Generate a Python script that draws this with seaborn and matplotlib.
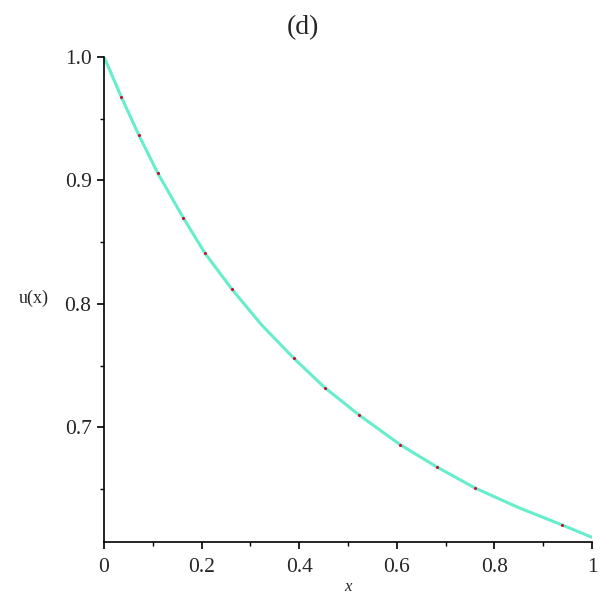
# Imports:
import numpy as np
import pandas as pd
import matplotlib
matplotlib.use("Agg")
import matplotlib.pyplot as plt
from matplotlib.ticker import MultipleLocator
import seaborn as sns

# Data:
x_values = [0.0, 0.035, 0.071, 0.11, 0.162, 0.207, 0.262, 0.323, 0.389,
            0.453, 0.523, 0.607, 0.682, 0.76, 0.85, 0.939, 1.0]
u_values = [1.0, 0.968, 0.937, 0.906, 0.870, 0.841, 0.812, 0.783, 0.756,
            0.732, 0.710, 0.686, 0.668, 0.651, 0.635, 0.621, 0.611]

# Marked points on the curve:
dot_x = [0.035, 0.071, 0.11, 0.162, 0.207, 0.262, 0.389, 0.453, 0.523,
         0.607, 0.682, 0.76, 0.939]
dot_u = [0.968, 0.937, 0.906, 0.870, 0.841, 0.812, 0.756, 0.732, 0.710,
         0.686, 0.668, 0.651, 0.621]

x_ticks = [0, 0.2, 0.4, 0.6, 0.8, 1.0]
x_tick_labels = ["0", "0.2", "0.4", "0.6", "0.8", "1"]
y_ticks = [0.7, 0.8, 0.9, 1.0]
y_tick_labels = ["0.7", "0.8", "0.9", "1.0"]

curve = pd.DataFrame({"x": x_values, "u": u_values})
dots = pd.DataFrame({"x": dot_x, "u": dot_u})

# Style:
sns.set_theme(style="white")
plt.rcParams["font.family"] = ["Liberation Serif", "DejaVu Serif"]

# Figure:
fig = plt.figure(figsize=(6.05, 6.05), dpi=100)
ax = fig.add_axes([0.172, 0.1047, 0.8065, 0.8011])

# Curve:
sns.lineplot(data=curve, x="x", y="u", ax=ax, color="#66EDCB",
             linewidth=2.2, sort=True)

# Dots:
sns.scatterplot(data=dots, x="x", y="u", ax=ax, color="#C8102E",
                s=5, linewidth=0, zorder=3)

# Axes:
ax.set_xlim(0, 1.0)
ax.set_ylim(0.6075, 1.0)
ax.set_xticks(x_ticks)
ax.set_xticklabels(x_tick_labels)
ax.set_yticks(y_ticks)
ax.set_yticklabels(y_tick_labels)
ax.xaxis.set_minor_locator(MultipleLocator(0.1))
ax.yaxis.set_minor_locator(MultipleLocator(0.05))
ax.tick_params(axis="both", which="major", direction="out", length=5,
               width=1.2, labelsize=15.5, color="black")
ax.tick_params(axis="x", which="major", pad=7)
ax.tick_params(axis="y", which="major", pad=4)
ax.tick_params(axis="both", which="minor", direction="out", length=3,
               width=1.0, color="black")
ax.tick_params(bottom=True, left=True, which="both")

for side in ["top", "right"]:
    ax.spines[side].set_visible(False)
for side in ["left", "bottom"]:
    ax.spines[side].set_color("black")
    ax.spines[side].set_linewidth(1.2)

# Labels:
ax.set_xlabel("")
ax.set_ylabel("")
fig.text(0.575, 0.030, "x", fontsize=12, style="italic", ha="center", va="center")
fig.text(0.056, 0.507, "u(x)", fontsize=13, ha="center", va="center")
fig.text(0.5, 0.955, "(d)", fontsize=20, ha="center", va="center")

# Save:
fig.savefig("out.png", dpi=100)
